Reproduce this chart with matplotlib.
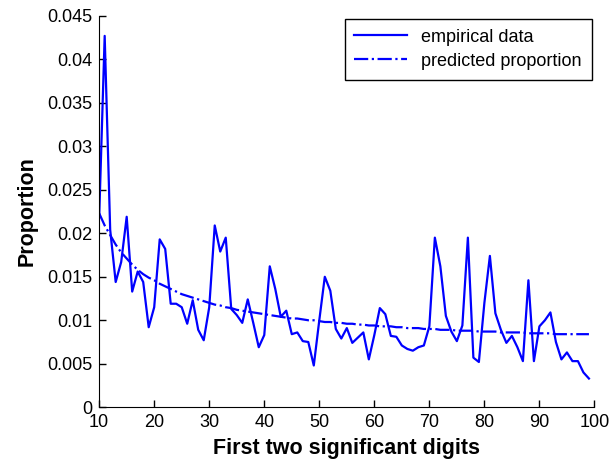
import numpy as np
import matplotlib
matplotlib.use('Agg')
import matplotlib.pyplot as plt

plt.rcParams['font.family'] = ['Liberation Sans', 'DejaVu Sans']

# first two significant digits 10..99
digits = list(range(10, 100))

# empirical proportions
empirical = [
    0.0218, 0.0427, 0.0204, 0.0144, 0.0167, 0.0219, 0.0133, 0.0156, 0.0144, 0.0092,  # 10-19
    0.0115, 0.0193, 0.0182, 0.0119, 0.0119, 0.0115, 0.0096, 0.0123, 0.0089, 0.0077,  # 20-29
    0.0115, 0.0209, 0.0179, 0.0195, 0.0113, 0.0106, 0.0097, 0.0124, 0.0097, 0.0069,  # 30-39
    0.0083, 0.0162, 0.0136, 0.0104, 0.0111, 0.0084, 0.0086, 0.0076, 0.0075, 0.0048,  # 40-49
    0.0100, 0.0150, 0.0134, 0.0090, 0.0079, 0.0091, 0.0074, 0.0080, 0.0086, 0.0055,  # 50-59
    0.0083, 0.0114, 0.0107, 0.0082, 0.0081, 0.0071, 0.0067, 0.0065, 0.0069, 0.0071,  # 60-69
    0.0093, 0.0195, 0.0162, 0.0105, 0.0087, 0.0076, 0.0094, 0.0195, 0.0057, 0.0052,  # 70-79
    0.0120, 0.0174, 0.0108, 0.0089, 0.0074, 0.0082, 0.0069, 0.0053, 0.0146, 0.0053,  # 80-89
    0.0093, 0.0100, 0.0109, 0.0075, 0.0055, 0.0063, 0.0053, 0.0053, 0.0040, 0.0033,  # 90-99
]

# predicted proportions (smooth curve)
predicted = [
    0.0223, 0.0209, 0.0198, 0.0187, 0.0178, 0.0171, 0.0164, 0.0158, 0.0153, 0.0149,
    0.0146, 0.0142, 0.0139, 0.0136, 0.0133, 0.0130, 0.0128, 0.0126, 0.0124, 0.0122,
    0.0120, 0.0118, 0.0117, 0.0115, 0.0114, 0.0112, 0.0111, 0.0110, 0.0109, 0.0108,
    0.0107, 0.0106, 0.0105, 0.0104, 0.0103, 0.0102, 0.0102, 0.0101, 0.0100, 0.0100,
    0.0099, 0.0098, 0.0098, 0.0097, 0.0097, 0.0096, 0.0096, 0.0095, 0.0095, 0.0094,
    0.0094, 0.0093, 0.0093, 0.0093, 0.0092, 0.0092, 0.0091, 0.0091, 0.0091, 0.0090,
    0.0090, 0.0090, 0.0089, 0.0089, 0.0089, 0.0088, 0.0088, 0.0088, 0.0088, 0.0087,
    0.0087, 0.0087, 0.0087, 0.0086, 0.0086, 0.0086, 0.0086, 0.0086, 0.0085, 0.0085,
    0.0085, 0.0085, 0.0085, 0.0084, 0.0084, 0.0084, 0.0084, 0.0084, 0.0084, 0.0084,
]

xticks = list(range(10, 101, 10))
yticks = [0, 0.005, 0.01, 0.015, 0.02, 0.025, 0.03, 0.035, 0.04, 0.045]
ytick_labels = ['0', '0.005', '0.01', '0.015', '0.02', '0.025', '0.03', '0.035', '0.04', '0.045']

fig = plt.figure(figsize=(6.16, 4.67), dpi=100)
ax = fig.add_axes([0.161, 0.128, 0.804, 0.838])

ax.plot(digits, empirical, '-', color='#0000ff', lw=1.6, label='empirical data')
ax.plot(digits, predicted, '-.', color='#0000ff', lw=1.6, label='predicted proportion')

ax.set_xlim(10, 100)
ax.set_ylim(0, 0.045)
ax.set_xticks(xticks)
ax.set_yticks(yticks)
ax.set_yticklabels(ytick_labels)
ax.tick_params(direction='in', length=5, labelsize=13, width=1, pad=5)
ax.spines['top'].set_visible(False)
ax.spines['right'].set_visible(False)

ax.set_xlabel('First two significant digits', fontsize=15.5, fontweight='bold', labelpad=5)
ax.set_ylabel('Proportion', fontsize=15.5, fontweight='bold', labelpad=7)

leg = ax.legend(loc='upper right', fontsize=13, fancybox=False, framealpha=1,
                edgecolor='black', borderaxespad=0.15, handlelength=2.9,
                labelspacing=0.4, borderpad=0.55)
leg.get_frame().set_linewidth(1)

fig.savefig('out.png', dpi=100)
